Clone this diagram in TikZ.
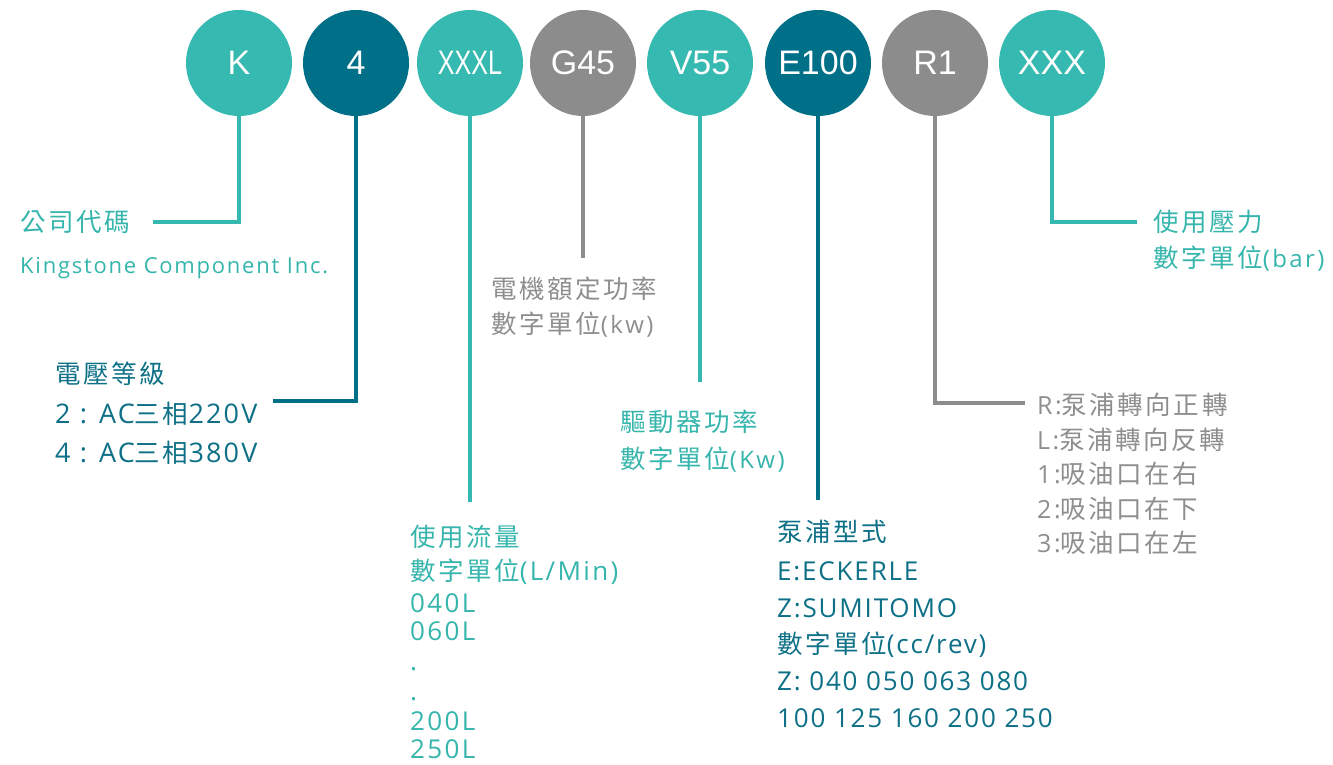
\documentclass[tikz,border=0pt]{standalone}
\usepackage{fontspec}
\setmainfont{Open Sans}
\newfontfamily\cjkf[LetterSpace=10]{Noto Sans CJK TC}
\newfontfamily\circf{Liberation Sans}
\newcommand\C[1]{{\fontsize{25.5}{30}\selectfont\cjkf #1}}
\definecolor{cteal}{HTML}{35B9B0}
\definecolor{cdark}{HTML}{006F88}
\definecolor{cgray}{HTML}{8C8C8C}
\definecolor{tteal}{HTML}{35B5AC}
\definecolor{tdark}{HTML}{0D7086}
\definecolor{tgray}{HTML}{8E8E8E}
\tikzset{
  circ/.style={circle, minimum size=106pt, inner sep=0pt, text=white,
    font=\circf\fontsize{34}{34}\selectfont},
  conn/.style={line width=3.5pt},
  lab/.style 2 args={anchor=base west, inner sep=0pt,
    font=\fontsize{#1}{30}\selectfont\addfontfeatures{LetterSpace=#2}},
}
\begin{document}
\begin{tikzpicture}[x=1pt,y=-1pt]
\useasboundingbox (0,0) rectangle (1333,765);
% circles
\node[circ, fill=cteal] (k) at (239,63) {K};
\node[circ, fill=cdark] (d4) at (356,63) {4};
\node[circ, fill=cteal] (xxxl) at (470,63) {\scalebox{0.74}[1]{XXXL}};
\node[circ, fill=cgray] (g45) at (583,63) {G45};
\node[circ, fill=cteal] (v55) at (700,63) {V55};
\node[circ, fill=cdark] (e100) at (818,63) {E100};
\node[circ, fill=cgray] (r1) at (935,63) {R1};
\node[circ, fill=cteal] (xxx) at (1052,63) {XXX};
% connector ends
\coordinate (kend) at (153,222);
\coordinate (d4end) at (273,401);
\coordinate (xxxlend) at (470,502);
\coordinate (g45end) at (583,258);
\coordinate (v55end) at (700,382);
\coordinate (e100end) at (818,500);
\coordinate (r1end) at (1025,403);
\coordinate (xxxend) at (1137,222);
\draw[conn, cteal] (k.south) |- (kend);
\draw[conn, cdark] (d4.south) |- (d4end);
\draw[conn, cteal] (xxxl.south) -- (xxxlend);
\draw[conn, cgray] (g45.south) -- (g45end);
\draw[conn, cteal] (v55.south) -- (v55end);
\draw[conn, cdark] (e100.south) -- (e100end);
\draw[conn, cgray] (r1.south) |- (r1end);
\draw[conn, cteal] (xxx.south) |- (xxxend);
% K block
\node[lab={22}{8}, text=tteal] (ka) at (20,231) {\C{公司代碼}};
\node[lab={22}{8}, text=tteal] (kb) at (20,273) {Kingstone Component Inc.};
% 4 block
\node[lab={27}{8}, text=tdark] (da) at (55,383) {\C{電壓等級}};
\node[lab={27}{8}, text=tdark] (db) at (55,423) {2 : AC\C{三相}220V};
\node[lab={27}{8}, text=tdark] (dc) at (55,462) {4 : AC\C{三相}380V};
% XXXL block
\node[lab={26}{9}, text=tteal] (la) at (410,546) {\C{使用流量}};
\node[lab={26}{9}, text=tteal] (lb) at (410,580) {\C{數字單位}(L/Min)};
\node[lab={26}{9}, text=tteal] (lc) at (410,612) {040L};
\node[lab={26}{9}, text=tteal] (ld) at (410,640) {060L};
\node[lab={26}{9}, text=tteal] (le) at (410,670) {.};
\node[lab={26}{9}, text=tteal] (lf) at (410,700) {.};
\node[lab={26}{9}, text=tteal] (lg) at (410,730) {200L};
\node[lab={26}{9}, text=tteal] (lh) at (410,758) {250L};
% G45 block
\node[lab={24}{10}, text=tgray] (ga) at (491,298) {\C{電機額定功率}};
\node[lab={24}{10}, text=tgray] (gb) at (491,333) {\C{數字單位}(kw)};
% V55 block
\node[lab={24}{10}, text=tteal] (va) at (620,431) {\C{驅動器功率}};
\node[lab={24}{10}, text=tteal] (vb) at (620,468) {\C{數字單位}(Kw)};
% E100 block
\node[lab={26}{7}, text=tdark] (ea) at (777,541) {\C{泵浦型式}};
\node[lab={26}{7}, text=tdark] (eb) at (777,580) {E:ECKERLE};
\node[lab={26}{7}, text=tdark] (ec) at (777,617) {Z:SUMITOMO};
\node[lab={26}{7}, text=tdark] (ed) at (777,653) {\C{數字單位}(cc/rev)};
\node[lab={26}{7}, text=tdark] (ee) at (777,690) {Z: 040 050 063 080};
\node[lab={26}{7}, text=tdark] (ef) at (777,727) {100 125 160 200 250};
% R1 block
\node[lab={25}{10}, text=tgray] (ra) at (1037,414) {R:\C{泵浦轉向正轉}};
\node[lab={25}{10}, text=tgray] (rb) at (1037,449) {L:\C{泵浦轉向反轉}};
\node[lab={25}{10}, text=tgray] (rc) at (1037,483) {1:\C{吸油口在右}};
\node[lab={25}{10}, text=tgray] (rd) at (1037,518) {2:\C{吸油口在下}};
\node[lab={25}{10}, text=tgray] (re) at (1037,552) {3:\C{吸油口在左}};
% XXX block
\node[lab={24}{10}, text=tteal] (xa) at (1153,231) {\C{使用壓力}};
\node[lab={24}{10}, text=tteal] (xb) at (1153,267) {\C{數字單位}(bar)};
\end{tikzpicture}
\end{document}
